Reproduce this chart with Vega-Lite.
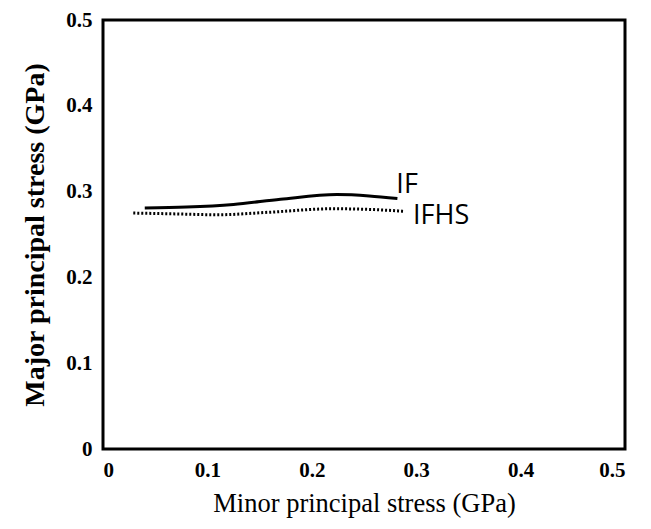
{
  "$schema": "https://vega.github.io/schema/vega-lite/v6.json",
  "width": 522,
  "height": 429,
  "autosize": "none",
  "padding": {"left": 103, "top": 20, "right": 26, "bottom": 80},
  "background": "white",
  "config": {
    "view": {"stroke": "black", "strokeWidth": 3},
    "axis": {"grid": false, "ticks": false, "domain": false}
  },
  "datasets": {
    "curves": [
      {"series": "IF", "x": 0.040, "y": 0.281},
      {"series": "IF", "x": 0.080, "y": 0.282},
      {"series": "IF", "x": 0.125, "y": 0.285},
      {"series": "IF", "x": 0.170, "y": 0.291},
      {"series": "IF", "x": 0.224, "y": 0.2965},
      {"series": "IF", "x": 0.255, "y": 0.295},
      {"series": "IF", "x": 0.282, "y": 0.292},
      {"series": "IFHS", "x": 0.029, "y": 0.275},
      {"series": "IFHS", "x": 0.070, "y": 0.274},
      {"series": "IFHS", "x": 0.110, "y": 0.273},
      {"series": "IFHS", "x": 0.160, "y": 0.276},
      {"series": "IFHS", "x": 0.220, "y": 0.280},
      {"series": "IFHS", "x": 0.260, "y": 0.279},
      {"series": "IFHS", "x": 0.289, "y": 0.277}
    ],
    "labels": [
      {"label": "IF", "x": 0.281, "y": 0.308},
      {"label": "IFHS", "x": 0.297, "y": 0.271}
    ]
  },
  "layer": [
    {
      "data": {"name": "curves"},
      "mark": {"type": "line", "interpolate": "monotone", "color": "black", "strokeWidth": 3},
      "transform": [{"filter": "datum.series == 'IF'"}],
      "encoding": {
        "x": {"field": "x", "type": "quantitative", "scale": {"domain": [0, 0.5]},
          "axis": {"values": [0, 0.1, 0.2, 0.3, 0.4, 0.5], "format": "~g", "title": "Minor principal stress (GPa)",
            "labelFont": "Liberation Serif", "labelFontWeight": "bold", "labelFontSize": 21, "labelColor": "black", "labelPadding": 10,
            "titleFont": "Liberation Serif", "titleFontWeight": "normal", "titleFontSize": 26.5, "titleColor": "black", "titlePadding": 10}},
        "y": {"field": "y", "type": "quantitative", "scale": {"domain": [0, 0.5]},
          "axis": {"values": [0, 0.1, 0.2, 0.3, 0.4, 0.5], "format": "~g", "title": "Major principal stress (GPa)",
            "labelFont": "Liberation Serif", "labelFontWeight": "bold", "labelFontSize": 21, "labelColor": "black", "labelPadding": 11,
            "titleFont": "Liberation Serif", "titleFontWeight": "bold", "titleFontSize": 28, "titleColor": "black", "titlePadding": 16}}
      }
    },
    {
      "data": {"name": "curves"},
      "mark": {"type": "line", "interpolate": "monotone", "color": "black", "strokeWidth": 3, "strokeDash": [2, 2]},
      "transform": [{"filter": "datum.series == 'IFHS'"}],
      "encoding": {
        "x": {"field": "x", "type": "quantitative"},
        "y": {"field": "y", "type": "quantitative"}
      }
    },
    {
      "data": {"name": "labels"},
      "mark": {"type": "text", "align": "left", "baseline": "middle", "font": "Open Sans", "fontSize": 27, "color": "black"},
      "encoding": {
        "x": {"field": "x", "type": "quantitative"},
        "y": {"field": "y", "type": "quantitative"},
        "text": {"field": "label"}
      }
    }
  ]
}
